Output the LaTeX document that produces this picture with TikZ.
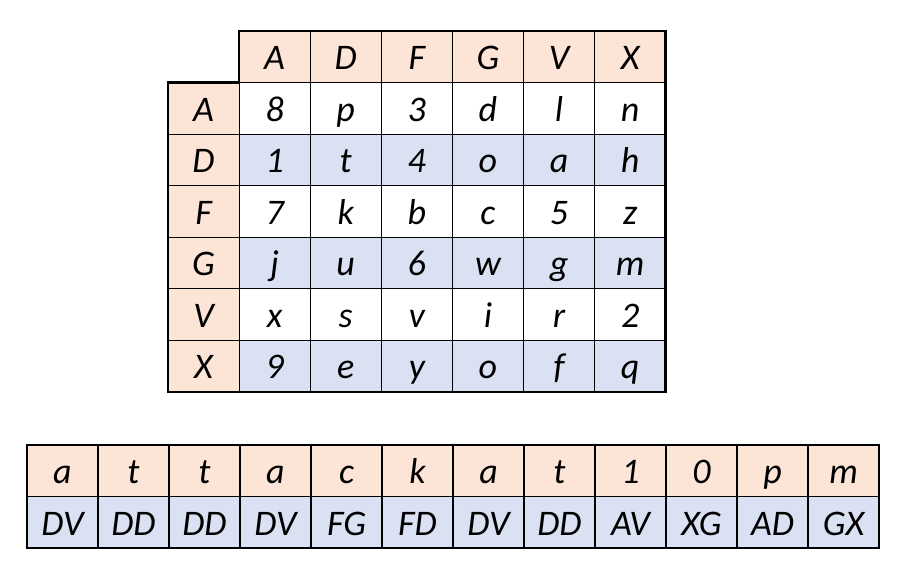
\documentclass[tikz,border=0pt]{standalone}
\usepackage{fontspec}
\setmainfont{Carlito}
\definecolor{peach}{HTML}{FCE4D6}
\definecolor{paleblue}{HTML}{D9E1F2}
\tikzset{
	cell/.style={draw=black, line width=1.2pt, minimum width=71.1pt, minimum height=51.57pt,
		inner sep=0pt, outer sep=0pt, text height=28pt, text depth=2.5pt,
		font=\fontsize{36}{42}\selectfont\itshape},
	keycell/.style={cell, fill=peach},
	bluecell/.style={cell, fill=paleblue},
	whitecell/.style={cell, fill=white},
	outline/.style={draw=black, line width=2.6pt, line join=miter}
}
\begin{document}
\begin{tikzpicture}[x=1pt,y=-1pt]
\useasboundingbox (0,0) rectangle (910,577);
% key square
\foreach \k [count=\j] in {A,D,F,G,V,X} {
	\node[keycell] (h-\j) at (168+71.1*\j+35.55, 56.79) {\k};
	\node[keycell] (l-\j) at (203.55, 31+51.57*\j+25.79) {\k};
}
\foreach \r [count=\i] in {{8,p,3,d,l,n},{1,t,4,o,a,h},{7,k,b,c,5,z},{j,u,6,w,g,m},{x,s,v,i,r,2},{9,e,y,o,f,q}} {
	\pgfmathtruncatemacro{\shade}{mod(\i,2)}
	\foreach \c [count=\j] in \r {
		\ifnum\shade=1
			\node[whitecell] (c-\i-\j) at (168+71.1*\j+35.55, 31+51.57*\i+25.79) {\c};
		\else
			\node[bluecell] (c-\i-\j) at (168+71.1*\j+35.55, 31+51.57*\i+25.79) {\c};
		\fi
	}
}
\draw[outline] (h-1.north west) -- (h-6.north east) -- (c-6-6.south east) -- (l-6.south west)
	-- (l-1.north west) -- (h-1.south west) -- cycle;

% message and its pairs
\foreach \p [count=\k] in {a,t,t,a,c,k,a,t,1,0,p,m}
	\node[keycell, minimum width=71pt] (p-\k) at (27+71*\k-35.5, 470.75) {\p};
\foreach \q [count=\k] in {DV,DD,DD,DV,FG,FD,DV,DD,AV,XG,AD,GX}
	\node[bluecell, minimum width=71pt] (q-\k) at (27+71*\k-35.5, 522.25) {\q};
\draw[outline] (p-1.north west) rectangle (q-12.south east);
\end{tikzpicture}
\end{document}
